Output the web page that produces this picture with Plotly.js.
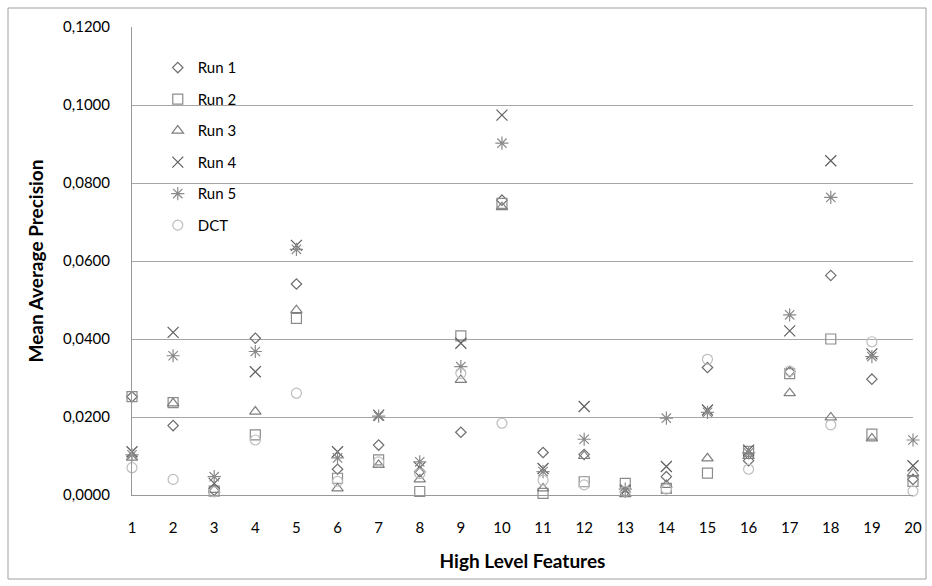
<!DOCTYPE html>
<html>
<head>
<meta charset="utf-8">
<script src="https://cdn.plot.ly/plotly-3.0.1.min.js"></script>
<style>html,body{margin:0;padding:0;background:#fff;}#chart{width:932px;height:586px;}</style>
</head>
<body>
<div id="chart"></div>
<script>
const features = [1,2,3,4,5,6,7,8,9,10,11,12,13,14,15,16,17,18,19,20];
const run1 = [0.0252,0.0178,0.0012,0.0402,0.0541,0.0066,0.0128,0.0060,0.0161,0.0756,0.0109,0.0104,0.0008,0.0047,0.0327,0.0088,0.0316,0.0563,0.0297,0.0040];
const run2 = [0.0252,0.0237,0.0010,0.0154,0.0453,0.0043,0.0090,0.0009,0.0408,0.0748,0.0004,0.0034,0.0030,0.0017,0.0056,0.0112,0.0311,0.0400,0.0156,0.0035];
const run3 = [0.0096,0.0235,0.0013,0.0214,0.0474,0.0017,0.0077,0.0040,0.0295,0.0738,0.0017,0.0100,0.0002,0.0026,0.0094,0.0100,0.0261,0.0199,0.0145,0.0056];
const run4 = [0.0111,0.0417,0.0030,0.0316,0.0640,0.0111,0.0205,0.0070,0.0389,0.0974,0.0068,0.0227,0.0012,0.0073,0.0218,0.0115,0.0421,0.0857,0.0362,0.0075];
const run5 = [0.0103,0.0357,0.0047,0.0368,0.0630,0.0095,0.0202,0.0085,0.0329,0.0902,0.0060,0.0143,0.0015,0.0197,0.0212,0.0108,0.0462,0.0763,0.0355,0.0141];
const dct  = [0.0070,0.0040,0.0008,0.0141,0.0261,0.0035,0.0085,0.0055,0.0312,0.0184,0.0038,0.0026,0.0010,0.0015,0.0348,0.0066,0.0318,0.0180,0.0393,0.0010];
const seriesNames = ['Run 1','Run 2','Run 3','Run 4','Run 5','DCT'];
const seriesData = [run1, run2, run3, run4, run5, dct];
const symbols = ['diamond-open','square-open','triangle-up-open','x-thin-open','asterisk-open','circle-open'];
const colors = ['#6e6e6e','#8c8c8c','#7f7f7f','#5e5e5e','#8a8a8a','#bdbdbd'];
const sizes = [8,10,10,11,11,10];

const FONT = 'Lato, "Open Sans", sans-serif';
const traces = seriesNames.map((n,i)=>({
  type:'scatter', mode:'markers', name:n, x:features, y:seriesData[i],
  legendgroup:'g'+i, cliponaxis:false,
  marker:{symbol:symbols[i], size:sizes[i], color:colors[i], line:{color:colors[i], width:1.2}}
}));

const pw = 781, ph = 468;
const layout = {
  width:932, height:586,
  margin:{l:132, r:19, t:27, b:91},
  paper_bgcolor:'#fff', plot_bgcolor:'#fff',
  separators:',.',
  font:{family:FONT, color:'#000', size:15},
  showlegend:true,
  legend:{x:0.033, y:0.948, xanchor:'left', yanchor:'top', bgcolor:'rgba(0,0,0,0)',
          font:{family:FONT, size:15, color:'#000'}, tracegroupgap:9, itemwidth:30},
  xaxis:{range:[1,20], tickmode:'array', tickvals:features, ticktext:features.map(String),
         showgrid:false, zeroline:false, showline:true, linecolor:'#999', linewidth:1,
         ticks:'outside', ticklen:19, tickcolor:'rgba(0,0,0,0)',
         tickfont:{family:FONT, size:15, color:'#000'},
         title:{text:'<b>High Level Features</b>', font:{family:FONT, size:19, color:'#000'}, standoff:19}},
  yaxis:{range:[0,0.12], tickvals:[0,0.02,0.04,0.06,0.08,0.10,0.12], tickformat:'.4f',
         showgrid:true, gridcolor:'#a6a6a6', gridwidth:1, zeroline:false,
         showline:true, linecolor:'#999', linewidth:1,
         ticks:'outside', ticklen:18, tickcolor:'rgba(0,0,0,0)',
         tickfont:{family:FONT, size:15, color:'#000'},
         title:{text:'<b>Mean Average Precision</b>', font:{family:FONT, size:19, color:'#000'}, standoff:14}},
  shapes:[{type:'rect', xref:'paper', yref:'paper',
           x0:(8-132)/pw, x1:(926-132)/pw, y0:(495-579)/ph, y1:(495-8)/ph,
           line:{color:'#a0a0a0', width:1}, fillcolor:'rgba(0,0,0,0)', layer:'below'}]
};
Plotly.newPlot('chart', traces, layout, {displayModeBar:false, staticPlot:true});
</script>
</body>
</html>
